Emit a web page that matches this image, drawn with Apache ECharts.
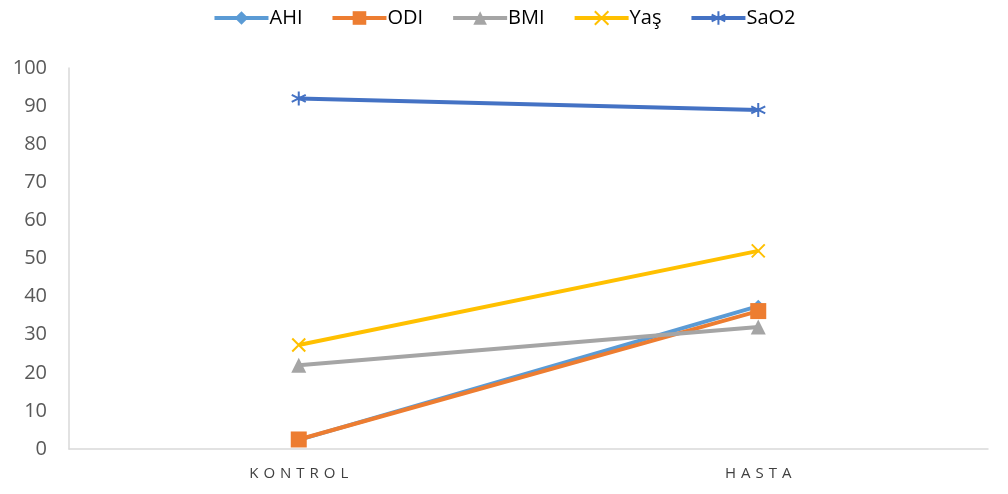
<!DOCTYPE html>
<html>
<head>
<meta charset="utf-8">
<script src="https://cdn.jsdelivr.net/npm/echarts@6/dist/echarts.min.js"></script>
<style>
  html, body { margin: 0; padding: 0; background: #fff; }
  #chart { width: 1008px; height: 494px; }
</style>
</head>
<body>
<div id="chart"></div>
<script>
// Group labels on the x axis
const categories = ['KONTROL', 'HASTA'];

// Mean values per group
const ahi  = [2.4, 37.5];
const odi  = [2.5, 36.2];
const bmi  = [22, 32];
const yas  = [27.3, 52];
const sao2 = [92, 89];

// Y axis range
const yMin = 0, yMax = 100, yStep = 10;

const crossPath = 'path://M0,0L10,10M10,0L0,10';
const starPath = 'path://M5,0L5,10M0.7,2.5L9.3,7.5M0.7,7.5L9.3,2.5';

function lineSeries(name, data, color, symbol, size, strokeOnly) {
  return {
    name: name,
    type: 'line',
    data: data,
    symbol: symbol,
    symbolSize: size,
    showAllSymbol: true,
    lineStyle: { color: color, width: 4 },
    itemStyle: strokeOnly
      ? { color: color, borderColor: color, borderWidth: 2 }
      : { color: color, borderWidth: 0 },
    emphasis: { disabled: true },
    animation: false
  };
}

const chart = echarts.init(document.getElementById('chart'), null, { renderer: 'canvas' });
chart.setOption({
  animation: false,
  textStyle: { fontFamily: 'Open Sans, Liberation Sans, sans-serif' },
  legend: {
    top: 3,
    left: 'center',
    itemWidth: 54,
    itemHeight: 17,
    itemGap: 28,
    lineStyle: { width: 4 },
    textStyle: { fontSize: 20, color: '#000', fontFamily: 'Open Sans, sans-serif', padding: [0, 0, 0, -4] },
    data: ['AHI', 'ODI', 'BMI', 'Yaş', 'SaO2']
  },
  grid: { left: 69, right: 20, top: 68, bottom: 45, containLabel: false },
  xAxis: {
    type: 'category',
    data: categories,
    boundaryGap: true,
    axisLine: { show: true, lineStyle: { color: '#d9d9d9', width: 1.5 } },
    axisTick: { show: false },
    axisLabel: {
      color: '#404040',
      fontSize: 15,
      margin: 17,
      fontFamily: 'Open Sans, sans-serif',
      formatter: function (v) { return v.split('').join('\u2009\u2009'); }
    },
    splitLine: { show: false }
  },
  yAxis: {
    type: 'value',
    min: yMin,
    max: yMax,
    interval: yStep,
    axisLine: { show: true, lineStyle: { color: '#d9d9d9', width: 1.5 } },
    axisTick: { show: false },
    axisLabel: { color: '#595959', fontSize: 20, margin: 22, fontFamily: 'Open Sans, sans-serif' },
    splitLine: { show: false }
  },
  series: [
    lineSeries('AHI', ahi, '#5B9BD5', 'diamond', 13, false),
    lineSeries('ODI', odi, '#ED7D31', 'rect', 16, false),
    lineSeries('BMI', bmi, '#A5A5A5', 'triangle', 15, false),
    lineSeries('Yaş', yas, '#FFC000', crossPath, 13, true),
    lineSeries('SaO2', sao2, '#4472C4', starPath, 14, true)
  ]
});
</script>
</body>
</html>
